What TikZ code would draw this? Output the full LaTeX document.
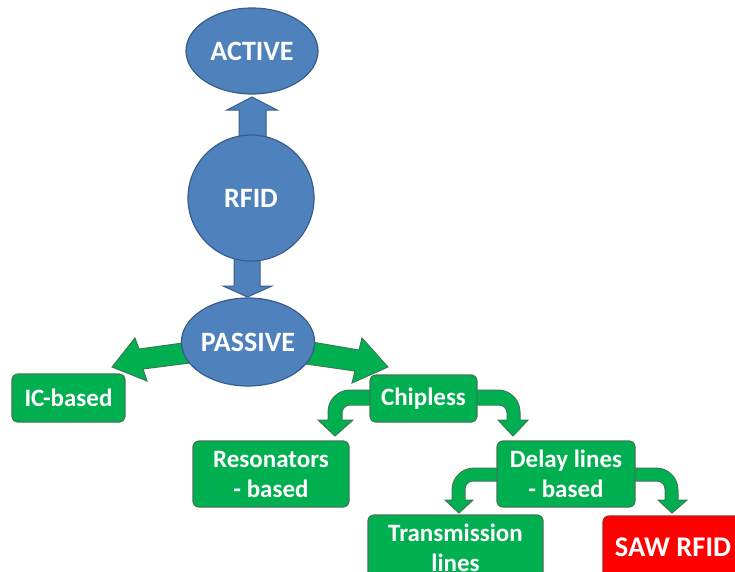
\documentclass[tikz,border=0pt]{standalone}
\usepackage{fontspec}
\setmainfont{Carlito}
\usetikzlibrary{shapes.geometric}
\pgfdeclarelayer{bg}
\pgfsetlayers{bg,main}
\definecolor{bfill}{HTML}{4F81BD}
\definecolor{bline}{HTML}{385D8A}
\definecolor{gfill}{HTML}{00B050}
\definecolor{gline}{HTML}{3D7A50}
\definecolor{rfill}{HTML}{FF0000}
\definecolor{rline}{HTML}{B02020}
\tikzset{
  bnode/.style={ellipse, fill=bfill, draw=bline, line width=1.2pt, text=white,
    font=\bfseries\fontsize{28}{30}\selectfont, inner sep=0pt},
  gbox/.style={rectangle, rounded corners=6pt, fill=gfill, draw=gline, line width=1.2pt,
    text=white, font=\bfseries\fontsize{25}{30}\selectfont, align=center, inner sep=0pt},
  rbox/.style={gbox, fill=rfill, draw=rline, font=\bfseries\fontsize{28.5}{30}\selectfont},
  barrow/.style={fill=bfill, draw=bline, line width=1pt, line join=miter},
  garrow/.style={fill=gfill, draw=gline, line width=1pt, line join=miter},
}
\begin{document}
\begin{tikzpicture}[x=1pt,y=-1pt]
\useasboundingbox (0,0) rectangle (735,571);
% nodes
\node[bnode, minimum width=132pt, minimum height=86pt] (active) at (252,51) {ACTIVE};
\node[bnode, circle, minimum size=126pt] (rfid) at (251,198) {RFID};
\node[bnode, minimum width=130pt, minimum height=88pt] (passive) at (248,342) {PASSIVE};
\node[gbox, minimum width=113pt, minimum height=48pt] (ic) at (68.5,398) {IC-based};
\node[gbox, minimum width=107pt, minimum height=47pt] (chip) at (423.5,398.5) {Chipless};
\node[gbox, minimum width=156pt, minimum height=66pt] (reso) at (271,474) {Resonators\\- based};
\node[gbox, minimum width=138pt, minimum height=66pt] (delay) at (566,474) {Delay lines\\- based};
\node[gbox, minimum width=175pt, minimum height=66pt] (trans) at (455.5,548) {Transmission\\lines};
\node[rbox, minimum width=140pt, minimum height=66pt] (saw) at (673,549) {\raisebox{4pt}{SAW RFID}};
% block arrows
\begin{pgfonlayer}{bg}
\draw[barrow] (239,140) -- (239,110) -- (227,110) -- (252,97) -- (277,110) -- (266,110) -- (266,140) -- cycle;
\draw[barrow] (234,258) -- (234,286) -- (223,286) -- (247.5,297) -- (272,286) -- (260,286) -- (260,258) -- cycle;
\draw[garrow] (190,342) -- (139,349) -- (135,338) -- (112,367) -- (147,381) -- (143,369) -- (190,363) -- cycle;
\draw[garrow] (306,341) -- (359,350) -- (362,338) -- (388,367) -- (352,383) -- (355,371) -- (306,364) -- cycle;
\draw[garrow] (380,390) [rounded corners=22pt] -- (328,390) [sharp corners] -- (328,420) -- (318,420) -- (335,436) -- (353,420) -- (342,420) [rounded corners=8pt] -- (342,405) [sharp corners] -- (380,405) -- cycle;
\draw[garrow] (470,390) [rounded corners=22pt] -- (520,390) [sharp corners] -- (520,420) -- (528,420) -- (513,436) -- (498,420) -- (507,420) [rounded corners=8pt] -- (507,405) [sharp corners] -- (470,405) -- cycle;
\draw[garrow] (505,468) [rounded corners=22pt] -- (452,468) [sharp corners] -- (452,500) -- (445,500) -- (459,513) -- (473,500) -- (465,500) [rounded corners=8pt] -- (465,481) [sharp corners] -- (505,481) -- cycle;
\draw[garrow] (628,468) [rounded corners=22pt] -- (678,468) [sharp corners] -- (678,500) -- (687,500) -- (672,513) -- (658,500) -- (665,500) [rounded corners=8pt] -- (665,481) [sharp corners] -- (628,481) -- cycle;
\end{pgfonlayer}
\end{tikzpicture}
\end{document}
